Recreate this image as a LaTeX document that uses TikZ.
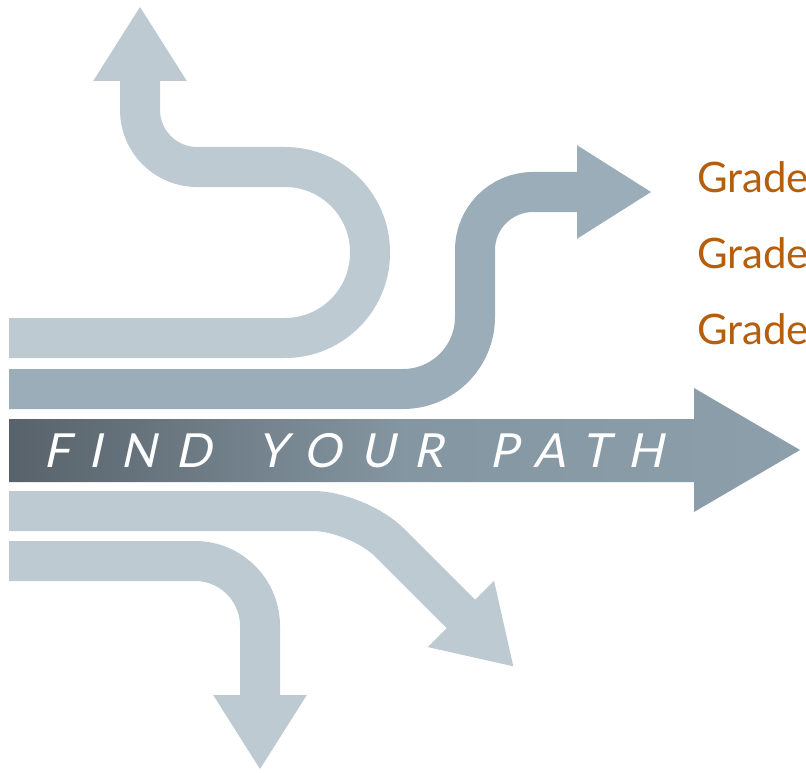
\documentclass[tikz,border=0pt]{standalone}
\usepackage{fontspec}
\usetikzlibrary{arrows.meta}
\newfontfamily\gradefont{Lato}
\newfontfamily\pathfont[FakeSlant=0.22,LetterSpace=40,WordSpace=1.5]{Lato}
\definecolor{lightband}{RGB}{189,202,209}
\definecolor{midband}{RGB}{155,173,184}
\definecolor{bardark}{RGB}{88,98,106}
\definecolor{barlight}{RGB}{140,159,171}
\definecolor{gradeorange}{RGB}{181,94,12}
\begin{document}
\begin{tikzpicture}[x=1pt, y=-1pt,
    band/.style={line width=40pt, -{Triangle[length=75pt,width=88pt]}},
    grade/.style={anchor=base west, inner sep=0pt, text=gradeorange, font=\gradefont\fontsize{42}{42}\selectfont},
    pathtext/.style={anchor=base west, inner sep=0pt, text=white, font=\pathfont\fontsize{47}{47}\selectfont}]
    \useasboundingbox[fill=white] (0,0) rectangle (806,773);

    % bands
    \draw[band, lightband] (9,338) [rounded corners=85pt] -- (370,338) -- (370,167)
        [rounded corners=57pt] -- (140,167) -- (140,6);
    \draw[band, midband] (9,389) [rounded corners=72pt] -- (475,389)
        [rounded corners=58pt] -- (475,192) -- (652,192);
    \draw[band, lightband, rounded corners=45pt] (9,511) -- (358,511) -- (514,667);
    \draw[band, lightband, rounded corners=65pt] (9,561) -- (260,561) -- (260,770);

    % main arrow
    \shade[left color=bardark, right color=barlight, middle color=barlight!85!bardark]
        (9,419) -- (694,419) -- (694,388) -- (800,450) -- (694,512) -- (694,482) -- (9,482) -- cycle;
    \node[pathtext] (title) at (43,467) {FIND YOUR PATH};

    % grades
    \node[grade] (grade1) at (697,192) {Grade};
    \node[grade] (grade2) at (697,268) {Grade};
    \node[grade] (grade3) at (697,344) {Grade};
\end{tikzpicture}
\end{document}
